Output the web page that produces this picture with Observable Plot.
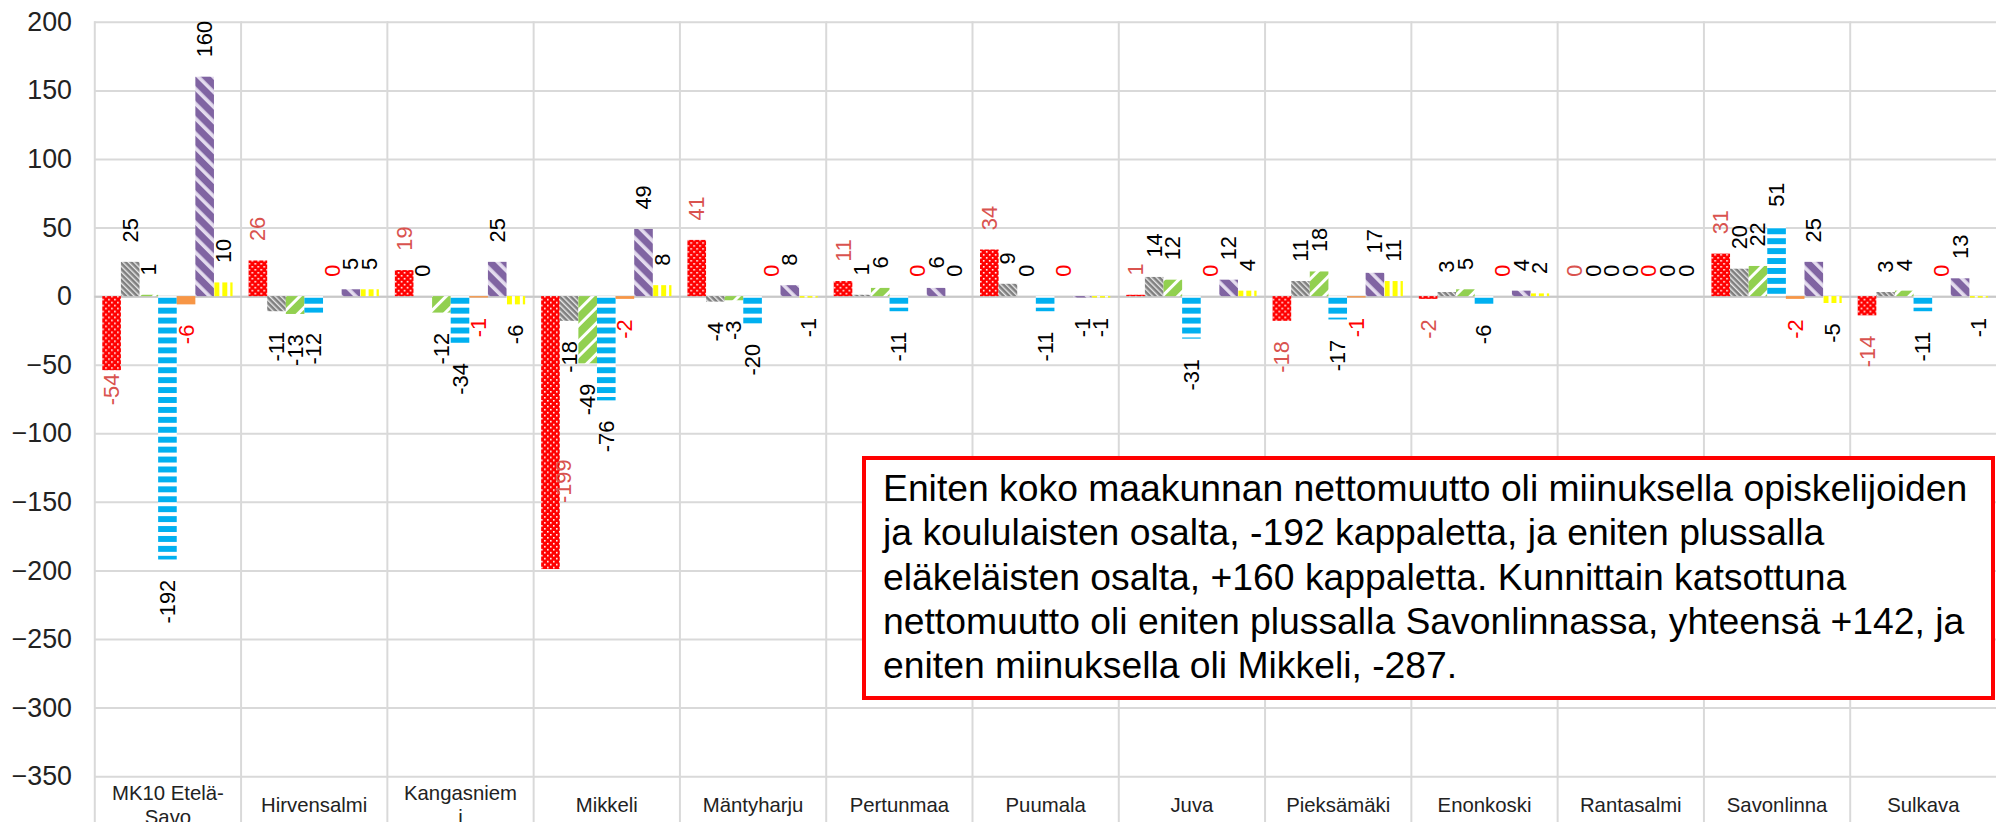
<!DOCTYPE html>
<html>
<head>
<meta charset="utf-8">
<script src="https://cdn.jsdelivr.net/npm/d3@7"></script>
<script src="https://cdn.jsdelivr.net/npm/@observablehq/plot@0.6"></script>
<style>
  html, body { margin: 0; padding: 0; background: #fff; overflow: hidden; width: 1996px; height: 822px; }
  #wrap { position: relative; width: 1996px; height: 822px; overflow: hidden; }
  #chart { position: absolute; left: 0; top: 0; }
  #note {
    position: absolute; left: 862px; top: 456px; width: 1133px; height: 244px;
    box-sizing: border-box; border: 4px solid #ff0000; background: #fff;
    padding: 6px 0 0 17px; font-family: "Liberation Sans", Arial, sans-serif;
    font-size: 37.3px; line-height: 44.3px; color: #000; white-space: nowrap;
  }
</style>
</head>
<body>
<div id="wrap">
  <div id="chart"></div>
  <div id="note">Eniten koko maakunnan nettomuutto oli miinuksella opiskelijoiden<br>ja koululaisten osalta, -192 kappaletta, ja eniten plussalla<br>eläkeläisten osalta, +160 kappaletta. Kunnittain katsottuna<br>nettomuutto oli eniten plussalla Savonlinnassa, yhteensä +142, ja<br>eniten miinuksella oli Mikkeli, -287.</div>
</div>
<script>
// ---- data ----
const categories = ["MK10 Etelä-Savo", "Hirvensalmi", "Kangasniemi", "Mikkeli", "Mäntyharju", "Pertunmaa", "Puumala", "Juva", "Pieksämäki", "Enonkoski", "Rantasalmi", "Savonlinna", "Sulkava"];
const tickLabels = ["MK10 Etelä-\nSavo", "Hirvensalmi", "Kangasniem\ni", "Mikkeli", "Mäntyharju", "Pertunmaa", "Puumala", "Juva", "Pieksämäki", "Enonkoski", "Rantasalmi", "Savonlinna", "Sulkava"];
const seriesNames = ["Työlliset", "Työttömät", "Lapset", "Opiskelijat ja koululaiset", "Varusmiehet", "Eläkeläiset", "Muut"];
const tyolliset   = [-54, 26, 19, -199, 41, 11, 34, 1, -18, -2, 0, 31, -14];
const tyottomat   = [25, -11, 0, -18, -4, 1, 9, 14, 11, 3, 0, 20, 3];
const lapset      = [1, -13, -12, -49, -3, 6, 0, 12, 18, 5, 0, 22, 4];
const opiskelijat = [-192, -12, -34, -76, -20, -11, -11, -31, -17, -6, 0, 51, -11];
const varusmiehet = [-6, 0, -1, -2, 0, 0, 0, 0, -1, 0, 0, -2, 0];
const elakelaiset = [160, 5, 25, 49, 8, 6, -1, 12, 17, 4, 0, 25, 13];
const muut        = [10, 5, -6, 8, -1, 0, -1, 4, 11, 2, 0, -5, -1];
const yTicks = [200, 150, 100, 50, 0, -50, -100, -150, -200, -250, -300, -350];

const seriesValues = [tyolliset, tyottomat, lapset, opiskelijat, varusmiehet, elakelaiset, muut];
const patternIds = ["p-red", "p-grey", "p-green", "p-blue", "p-orange", "p-purple", "p-yellow"];
const labelColors = ["#d9534f", "#000", "#000", "#000", "#ff0000", "#000", "#000"];

const rows = [];
categories.forEach((c, i) => seriesNames.forEach((s, j) => rows.push({cat: c, series: s, k: j, value: seriesValues[j][i]})));

// labels that were moved by hand in the original chart
const isMovedA = r => r.k === 0 && r.cat === "MK10 Etelä-Savo";
const isMovedB = r => r.k === 0 && r.cat === "Mikkeli";

const marks = [
  Plot.ruleY(yTicks, {stroke: "#d9d9d9", strokeWidth: 2}),
  Plot.frame({anchor: "left", stroke: "#d9d9d9", strokeWidth: 2, insetBottom: -80}),
  Plot.ruleY([0], {stroke: "#c8c8c8", strokeWidth: 2}),
  Plot.axisY(yTicks, {tickSize: 0, tickPadding: 23, fontSize: 27, fill: "#222", label: null})
];
seriesNames.forEach((s, j) => {
  const d = rows.filter(r => r.k === j);
  marks.push(Plot.barY(d, {fx: "cat", x: "series", y: "value", fill: `url(#${patternIds[j]})`}));
});
const labelOpts = (j) => ({fx: "cat", x: "series", y: "value", text: "value", rotate: -90, fontSize: 22, fill: labelColors[j]});
seriesNames.forEach((s, j) => {
  const d = rows.filter(r => r.k === j && !isMovedA(r) && !isMovedB(r));
  marks.push(Plot.text(d.filter(r => r.value >= 0), {...labelOpts(j), textAnchor: "start", dy: -20}));
  marks.push(Plot.text(d.filter(r => r.value < 0), {...labelOpts(j), textAnchor: "end", dy: 20}));
});
marks.push(Plot.text(rows.filter(isMovedA), {...labelOpts(0), textAnchor: "end", dy: 3}));
marks.push(Plot.text(rows.filter(isMovedB), {...labelOpts(0), textAnchor: "end", dx: 13, dy: -111}));
marks.push(Plot.text(categories, {fx: d => d, text: (d, i) => tickLabels[i], frameAnchor: "bottom", dy: 28, fontSize: 20.5, lineAnchor: "middle", lineHeight: 1.17, fill: "#222"}));

const chart = Plot.plot({
  width: 2011, height: 850,
  marginLeft: 95, marginRight: 0, marginTop: 22, marginBottom: 68,
  style: {fontFamily: "'Liberation Sans', Arial, sans-serif", background: "#fff", overflow: "visible"},
  fx: {domain: categories, padding: 0, axis: null, round: false},
  x: {domain: seriesNames, paddingInner: 0, paddingOuter: 0.43, round: false, axis: null},
  y: {domain: [-350, 200], axis: null},
  marks
});

// ---- fill patterns ----
const defs = d3.select(chart).insert("defs", ":first-child");
function pat(id, w, h, transform) {
  const p = defs.append("pattern").attr("id", id).attr("patternUnits", "userSpaceOnUse").attr("width", w).attr("height", h);
  if (transform) p.attr("patternTransform", transform);
  return p;
}
let p = pat("p-red", 6, 6);
p.append("rect").attr("width", 6).attr("height", 6).attr("fill", "#ff0000");
p.append("rect").attr("x", 1).attr("y", 1).attr("width", 1.6).attr("height", 1.6).attr("fill", "#fff");
p.append("rect").attr("x", 4).attr("y", 4).attr("width", 1.6).attr("height", 1.6).attr("fill", "#fff");
p = pat("p-grey", 4, 4, "rotate(-45)");
p.append("rect").attr("width", 4).attr("height", 4).attr("fill", "#7f7f7f");
p.append("rect").attr("width", 1.4).attr("height", 4).attr("fill", "#e8e8e8");
p = pat("p-green", 11, 11, "rotate(45)");
p.append("rect").attr("width", 11).attr("height", 11).attr("fill", "#92d050");
p.append("rect").attr("width", 3).attr("height", 11).attr("fill", "#fff");
p = pat("p-blue", 10, 10);
p.append("rect").attr("width", 10).attr("height", 10).attr("fill", "#fff");
p.append("rect").attr("width", 10).attr("height", 6).attr("fill", "#00b0f0");
p = pat("p-orange", 4, 4);
p.append("rect").attr("width", 4).attr("height", 4).attr("fill", "#f79646");
p = pat("p-purple", 10.6, 10.6, "rotate(-45)");
p.append("rect").attr("width", 10.6).attr("height", 10.6).attr("fill", "#8064a2");
p.append("rect").attr("width", 3.6).attr("height", 10.6).attr("fill", "#e4dcee");
p = pat("p-yellow", 8, 8);
p.append("rect").attr("width", 8).attr("height", 8).attr("fill", "#fff");
p.append("rect").attr("width", 5).attr("height", 8).attr("fill", "#ffff00");

document.getElementById("chart").appendChild(chart);
</script>
</body>
</html>
